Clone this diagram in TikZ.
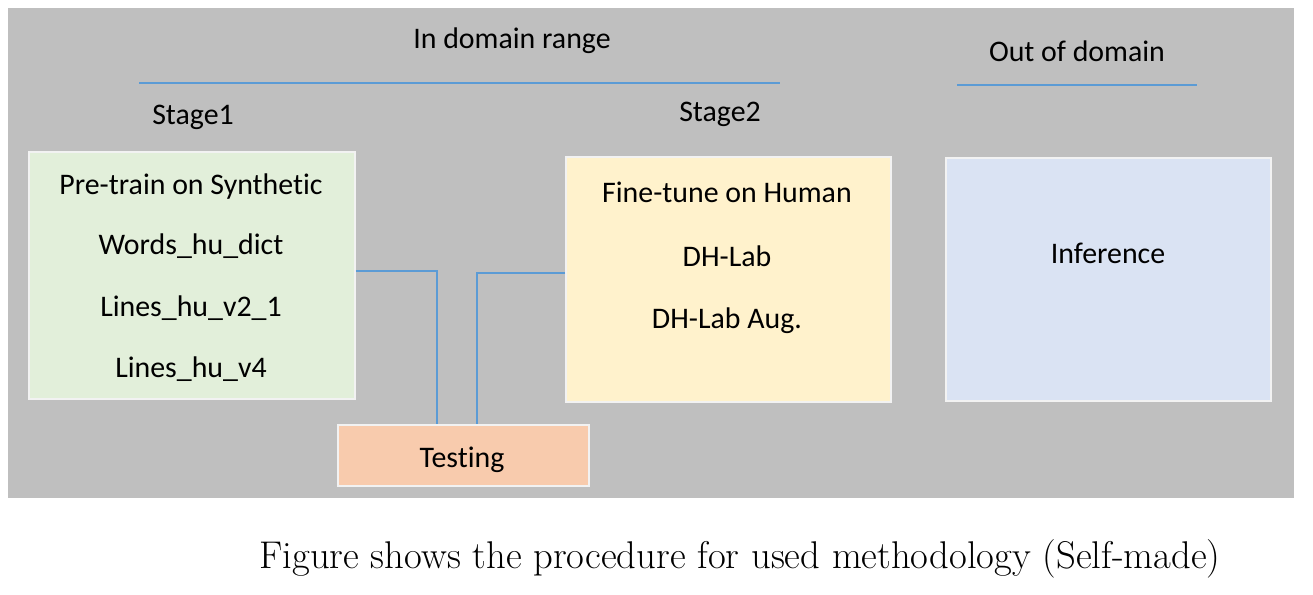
\documentclass[tikz,border=0pt]{standalone}
\usepackage{fontspec}
\setmainfont[Ligatures=NoCommon]{Carlito}
\newfontfamily\captionfont{Latin Modern Roman}
\definecolor{bggray}{HTML}{BFBFBF}
\definecolor{rulecol}{HTML}{5B9BD5}
\definecolor{greenfill}{HTML}{E2EFDA}
\definecolor{yellowfill}{HTML}{FFF2CC}
\definecolor{bluefill}{HTML}{DAE3F3}
\definecolor{orangefill}{HTML}{F8CBAD}
\begin{document}
\begin{tikzpicture}[x=0.02cm, y=-0.02cm, font=\fontsize{17}{20}\selectfont,
stage box/.style={draw=white!95!black, line width=1.1pt, inner sep=0pt, anchor=north west},
box text/.style={inner sep=0pt, yshift=-0.05cm},
head rule/.style={draw=rulecol, line width=1.3pt},
link/.style={draw=rulecol, line width=0.9pt}]
\useasboundingbox (0,0) rectangle (1313,595);
\fill[bggray] (8,8) rectangle (1294,498);
% headings
\node[box text] (indom) at (512,38) {In domain range};
\node[box text] (outdom) at (1077,49) {Out of domain};
\coordinate (r1a) at (139,83);
\coordinate (r1b) at (780,83);
\coordinate (r2a) at (957,85);
\coordinate (r2b) at (1197,85);
\draw[head rule] (r1a) -- (r1b);
\draw[head rule] (r2a) -- (r2b);
\node[box text] (stage1) at (193,115) {Stage1};
\node[box text] (stage2) at (720,112) {Stage2};
% boxes
\node[stage box, fill=greenfill, minimum width=6.52cm, minimum height=4.94cm] (pre) at (28,151) {};
\node[stage box, fill=yellowfill, minimum width=6.5cm, minimum height=4.9cm] (fine) at (565,156) {};
\node[stage box, fill=bluefill, minimum width=6.5cm, minimum height=4.86cm] (infer) at (945,157) {};
\node[stage box, fill=orangefill, minimum width=5.02cm, minimum height=1.22cm] (test) at (337,424) {};
% box texts
\node[box text] (pre1) at (191,184) {Pre-train on Synthetic};
\node[box text] (pre2) at (191,244) {Words\_hu\_dict};
\node[box text] (pre3) at (191,306) {Lines\_hu\_v2\_1};
\node[box text] (pre4) at (191,367) {Lines\_hu\_v4};
\node[box text] (fine1) at (727,190) {Fine-tune on Human};
\node[box text] (fine2) at (727,254) {DH-Lab};
\node[box text] (fine3) at (727,318) {DH-Lab Aug.};
\node[box text] (infer1) at (1108,251) {Inference};
\node[box text] (test1) at (462,457) {Testing};
% connectors
\draw[link] ([yshift=0.09cm]pre.east) -| ([xshift=-0.53cm]test.north);
\draw[link] ([yshift=0.13cm]fine.west) -| ([xshift=0.27cm]test.north);
% caption
\node[box text, font=\captionfont\fontsize{22}{26}\selectfont] (caption) at (740,556) {Figure shows the procedure for used methodology (Self-made)};
\end{tikzpicture}
\end{document}
